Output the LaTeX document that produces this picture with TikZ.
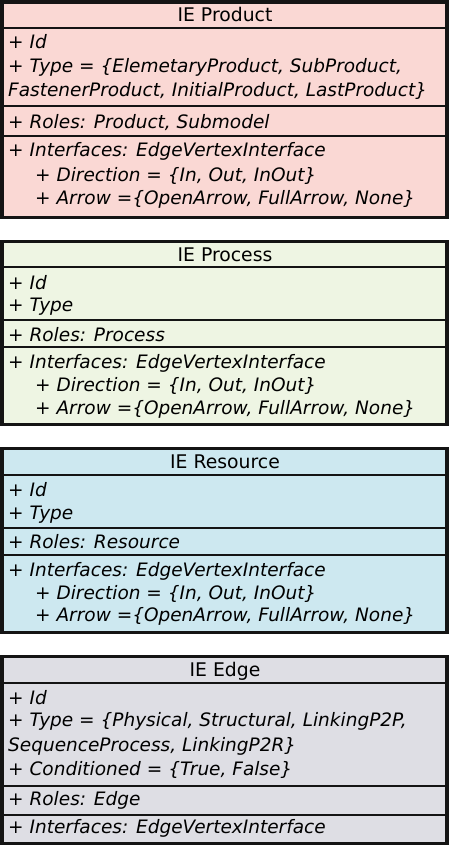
\documentclass[tikz,border=0pt]{standalone}
\usepackage{fontspec}
\setmainfont{DejaVu Sans}
\definecolor{pinkfill}{RGB}{250,216,212}
\definecolor{greenfill}{RGB}{238,245,227}
\definecolor{bluefill}{RGB}{205,232,240}
\definecolor{grayfill}{RGB}{222,222,228}
\definecolor{edgeblack}{RGB}{20,20,20}
\begin{document}
\begin{tikzpicture}[x=1pt,y=-1pt,
  outerbox/.style={draw=edgeblack,line width=3.5pt},
  sepline/.style={draw=edgeblack,line width=2pt},
  titletext/.style={anchor=base,inner sep=0pt,font=\fontsize{18.8}{22}\selectfont},
  attr/.style={anchor=base west,inner sep=0pt,font=\fontsize{18.5}{22}\selectfont\itshape},
]
\useasboundingbox (0,0) rectangle (449,846);
% ---------- Box 1: IE Product
\fill[pinkfill] (1.75,1.75) rectangle (447,217.5);
\draw[sepline] (1.75,28) -- (447,28);
\draw[sepline] (1.75,106) -- (447,106);
\draw[sepline] (1.75,135.5) -- (447,135.5);
\draw[outerbox] (1.75,1.75) rectangle (447,217.5);
\node[titletext] (p0) at (225,21.5) {IE Product};
\node[attr] (p1) at (8,48.3) {+ Id};
\node[attr] (p2) at (8,72.7) {+ Type = \{ElemetaryProduct, SubProduct,};
\node[attr] (p3) at (8,96.7) {FastenerProduct, InitialProduct, LastProduct\}};
\node[attr] (p4) at (8,128.3) {+ Roles: Product, Submodel};
\node[attr] (p5) at (8,156.7) {+ Interfaces: EdgeVertexInterface};
\node[attr] (p6) at (35,181) {+ Direction = \{In, Out, InOut\}};
\node[attr] (p7) at (35,204) {+ Arrow =\{OpenArrow, FullArrow, None\}};
% ---------- Box 2: IE Process
\fill[greenfill] (1.75,241.5) rectangle (447,424.5);
\draw[sepline] (1.75,267) -- (447,267);
\draw[sepline] (1.75,319.5) -- (447,319.5);
\draw[sepline] (1.75,347) -- (447,347);
\draw[outerbox] (1.75,241.5) rectangle (447,424.5);
\node[titletext] (q0) at (225,261.7) {IE Process};
\node[attr] (q1) at (8,289) {+ Id};
\node[attr] (q2) at (8,311.7) {+ Type};
\node[attr] (q3) at (8,341) {+ Roles: Process};
\node[attr] (q4) at (8,368) {+ Interfaces: EdgeVertexInterface};
\node[attr] (q5) at (35,391.7) {+ Direction = \{In, Out, InOut\}};
\node[attr] (q6) at (35,414) {+ Arrow =\{OpenArrow, FullArrow, None\}};
% ---------- Box 3: IE Resource
\fill[bluefill] (1.75,448.5) rectangle (447,632.5);
\draw[sepline] (1.75,474.5) -- (447,474.5);
\draw[sepline] (1.75,528) -- (447,528);
\draw[sepline] (1.75,555) -- (447,555);
\draw[outerbox] (1.75,448.5) rectangle (447,632.5);
\node[titletext] (r0) at (225,468) {IE Resource};
\node[attr] (r1) at (8,496) {+ Id};
\node[attr] (r2) at (8,519) {+ Type};
\node[attr] (r3) at (8,548) {+ Roles: Resource};
\node[attr] (r4) at (8,576) {+ Interfaces: EdgeVertexInterface};
\node[attr] (r5) at (35,599) {+ Direction = \{In, Out, InOut\}};
\node[attr] (r6) at (35,621.7) {+ Arrow =\{OpenArrow, FullArrow, None\}};
% ---------- Box 4: IE Edge
\fill[grayfill] (1.75,656.5) rectangle (447,843.5);
\draw[sepline] (1.75,682.5) -- (447,682.5);
\draw[sepline] (1.75,785.5) -- (447,785.5);
\draw[sepline] (1.75,814.5) -- (447,814.5);
\draw[outerbox] (1.75,656.5) rectangle (447,843.5);
\node[titletext] (e0) at (225,676.7) {IE Edge};
\node[attr] (e1) at (8,704) {+ Id};
\node[attr] (e2) at (8,726.7) {+ Type = \{Physical, Structural, LinkingP2P,};
\node[attr] (e3) at (8,751) {SequenceProcess, LinkingP2R\}};
\node[attr] (e4) at (8,775) {+ Conditioned = \{True, False\}};
\node[attr] (e5) at (8,805.7) {+ Roles: Edge};
\node[attr] (e6) at (8,833) {+ Interfaces: EdgeVertexInterface};
\end{tikzpicture}
\end{document}
